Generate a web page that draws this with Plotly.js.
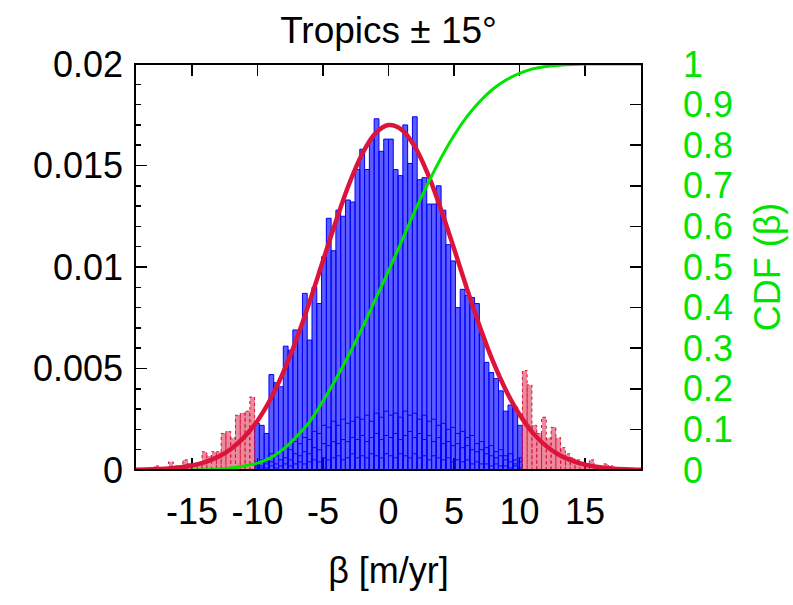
<!DOCTYPE html>
<html>
<head>
<meta charset="utf-8">
<script src="https://cdn.plot.ly/plotly-3.0.1.min.js"></script>
<style>html,body{margin:0;padding:0;background:#fff;}#chart{width:793px;height:605px;}</style>
</head>
<body>
<div id="chart"></div>
<script>
// ---------- data ----------
const binWidth = 0.365;           // histogram bin width [m/yr]
const blueFirstBin = -28;         // index of first central (blue) bin
const blueHeights = [
  0.0023, 0.0022, 0.0018, 0.0047, 0.0043, 0.0041, 0.0061, 0.0059, 0.0069, 0.0068,
  0.0087, 0.0064, 0.0090, 0.0082, 0.0105, 0.0124, 0.0108, 0.0128, 0.0125, 0.0133,
  0.0132, 0.0148, 0.0158, 0.0148, 0.0163, 0.0173, 0.0157, 0.0163, 0.0163, 0.0148,
  0.0145, 0.0170, 0.0151, 0.0174, 0.0143, 0.0144, 0.0131, 0.0131, 0.0140, 0.0128,
  0.0111, 0.0103, 0.0080, 0.0089, 0.0086, 0.0085, 0.0082, 0.0067, 0.0053, 0.0048,
  0.0045, 0.0039, 0.0029, 0.0032, 0.0031, 0.0022
];
// lower sub-histograms visible as inner outlines
const innerHeightsA = [
  0.0004, 0.0005, 0.0004, 0.0008, 0.0007, 0.0009, 0.0011, 0.0010, 0.0014, 0.0013,
  0.0016, 0.0015, 0.0019, 0.0018, 0.0022, 0.0021, 0.0024, 0.0022, 0.0025, 0.0023,
  0.0024, 0.0026, 0.0025, 0.0027, 0.0024, 0.0028, 0.0026, 0.0029, 0.0027, 0.0028,
  0.0026, 0.0029, 0.0027, 0.0028, 0.0025, 0.0027, 0.0024, 0.0025, 0.0022, 0.0023,
  0.0020, 0.0021, 0.0018, 0.0019, 0.0016, 0.0017, 0.0013, 0.0014, 0.0011, 0.0012,
  0.0009, 0.0010, 0.0007, 0.0008, 0.0005, 0.0006
];
const innerHeightsB = [
  0.0002, 0.0002, 0.0003, 0.0004, 0.0003, 0.0005, 0.0006, 0.0005, 0.0008, 0.0007,
  0.0009, 0.0008, 0.0011, 0.0010, 0.0013, 0.0012, 0.0014, 0.0013, 0.0015, 0.0014,
  0.0016, 0.0015, 0.0017, 0.0014, 0.0016, 0.0018, 0.0015, 0.0017, 0.0016, 0.0018,
  0.0015, 0.0017, 0.0019, 0.0016, 0.0018, 0.0015, 0.0017, 0.0014, 0.0016, 0.0013,
  0.0014, 0.0012, 0.0013, 0.0011, 0.0012, 0.0010, 0.0009, 0.0010, 0.0008, 0.0007,
  0.0006, 0.0007, 0.0005, 0.0004, 0.0003, 0.0004
];
const innerHeightsC = [
  0.0001, 0.0001, 0.0001, 0.0002, 0.0001, 0.0002, 0.0003, 0.0002, 0.0003, 0.0004,
  0.0003, 0.0004, 0.0005, 0.0004, 0.0006, 0.0005, 0.0006, 0.0007, 0.0005, 0.0006,
  0.0008, 0.0006, 0.0007, 0.0006, 0.0008, 0.0007, 0.0006, 0.0008, 0.0007, 0.0006,
  0.0008, 0.0007, 0.0006, 0.0008, 0.0006, 0.0007, 0.0005, 0.0007, 0.0006, 0.0005,
  0.0006, 0.0004, 0.0005, 0.0004, 0.0005, 0.0003, 0.0004, 0.0003, 0.0003, 0.0002,
  0.0003, 0.0002, 0.0002, 0.0001, 0.0002, 0.0001
];
const leftTailFirstBin = -51;
const leftTailHeights = [
  0.0001, 0.0001, 0.0002, 0.0001, 0.0001, 0.0004, 0.0002, 0.0002, 0.0005, 0.0003,
  0.0003, 0.0003, 0.0009, 0.0007, 0.0009, 0.0009, 0.0018, 0.0019, 0.0016, 0.0027,
  0.0028, 0.0029, 0.0036
];
const rightTailFirstBin = 28;
const rightTailHeights = [
  0.0049, 0.0042, 0.0022, 0.0018, 0.0026, 0.0016, 0.0021, 0.0016, 0.0011, 0.0008,
  0.0006, 0.0005, 0.0004, 0.0003, 0.0005, 0.0002, 0.0001, 0.0003, 0.0002, 0.0001,
  0.0001, 0.0001
];
// Gaussian fit curve
const fitX = [-19.35, -18, -17, -16, -15, -14, -13, -12, -11, -10, -9, -8, -7, -6, -5, -4, -3, -2, -1, 0,
              1, 2, 3, 4, 5, 6, 7, 8, 9, 10, 11, 12, 13, 14, 15, 16, 17, 18, 19.35];
const fitY = [0.000013, 0.000034, 0.000066, 0.000124, 0.000224, 0.00039, 0.00065, 0.00105, 0.00163, 0.00243,
              0.00350, 0.00486, 0.00648, 0.00833, 0.01031, 0.01228, 0.01410, 0.01558, 0.01658, 0.01699,
              0.01677, 0.01594, 0.01459, 0.01285, 0.01091, 0.00891, 0.00701, 0.00531, 0.00388, 0.00273,
              0.00184, 0.00120, 0.000755, 0.00046, 0.000265, 0.000149, 0.00008, 0.000042, 0.000016];
// cumulative distribution
const cdfX = [-15, -13, -12, -11, -10, -9, -8, -7, -6, -5, -4, -3, -2, -1, 0, 1, 2, 3, 4, 5,
              6, 7, 8, 9, 10, 11, 12, 13, 14, 15, 19.35];
const cdfY = [0, 0.002, 0.005, 0.01, 0.017, 0.03, 0.052, 0.083, 0.12, 0.17, 0.225, 0.285, 0.35, 0.42, 0.49,
              0.563, 0.637, 0.705, 0.768, 0.824, 0.871, 0.909, 0.939, 0.961, 0.977, 0.988, 0.994, 0.997, 0.999, 1, 1];
const xTickVals = [-15, -10, -5, 0, 5, 10, 15];
const xTickLabels = ['-15', '-10', '-5', '0', '5', '10', '15'];
const yTickVals = [0, 0.005, 0.01, 0.015, 0.02];
const yTickLabels = ['0', '0.005', '0.01', '0.015', '0.02'];

// ---------- build ----------
const centers = (first, n) => Array.from({length: n}, (_, i) => (first + i + 0.5) * binWidth);
const blueX = centers(blueFirstBin, blueHeights.length);
const leftX = centers(leftTailFirstBin, leftTailHeights.length);
const rightX = centers(rightTailFirstBin, rightTailHeights.length);

function outline(xs, hs) {
  const ox = [], oy = [];
  xs.forEach((c, i) => {
    const l = c - binWidth / 2, r = c + binWidth / 2;
    ox.push(l, l, r, r, null); oy.push(0, hs[i], hs[i], 0, null);
  });
  return {ox, oy};
}
const lo = outline(leftX, leftTailHeights), ro = outline(rightX, rightTailHeights);

const FONT = 'Liberation Sans, Arial, Helvetica, sans-serif';
const GREEN = '#00e400';
const CRIMSON = '#dc143c';

const innerBar = (h) => ({
  type: 'bar', x: blueX, y: h, width: binWidth, hoverinfo: 'skip',
  marker: {color: 'rgba(0,0,0,0)', line: {color: '#0000ff', width: 1}}
});

const traces = [
  {type: 'bar', x: blueX, y: blueHeights, width: binWidth,
   marker: {color: 'rgba(0,0,255,0.64)', line: {color: '#0000ff', width: 1}}},
  innerBar(innerHeightsA), innerBar(innerHeightsB), innerBar(innerHeightsC),
  {type: 'bar', x: leftX, y: leftTailHeights, width: binWidth,
   marker: {color: 'rgba(220,20,60,0.5)', line: {width: 0}}},
  {type: 'bar', x: rightX, y: rightTailHeights, width: binWidth,
   marker: {color: 'rgba(220,20,60,0.5)', line: {width: 0}}},
  {type: 'scatter', mode: 'lines', x: lo.ox, y: lo.oy, connectgaps: false,
   line: {color: CRIMSON, width: 1, dash: '3px,3px'}},
  {type: 'scatter', mode: 'lines', x: ro.ox, y: ro.oy, connectgaps: false,
   line: {color: CRIMSON, width: 1, dash: '3px,3px'}},
  {type: 'scatter', mode: 'lines', x: fitX, y: fitY,
   line: {color: CRIMSON, width: 4.5, shape: 'spline'}},
  {type: 'scatter', mode: 'lines', x: cdfX, y: cdfY, yaxis: 'y2',
   line: {color: GREEN, width: 3, shape: 'spline'}}
];

const layout = {
  width: 793, height: 605,
  margin: {l: 135, r: 151, t: 64, b: 135},
  paper_bgcolor: '#fff', plot_bgcolor: '#fff',
  showlegend: false, barmode: 'overlay', bargap: 0,
  font: {family: FONT, size: 36, color: '#000'},
  title: {text: 'Tropics ± 15°', font: {family: FONT, size: 37, color: '#000'},
          x: 0.5, xref: 'paper', xanchor: 'center', y: 0.95, yref: 'container', yanchor: 'middle'},
  xaxis: {range: [-19.35, 19.35], tickvals: xTickVals, ticktext: xTickLabels, ticks: 'inside', ticklen: 12, tickwidth: 1.5,
          tickcolor: '#000', mirror: 'ticks', showline: false, showgrid: false, zeroline: false,
          layer: 'below traces', tickfont: {size: 36}, ticklabelstandoff: 17,
          title: {text: 'β [m/yr]', font: {size: 36}, standoff: 26}},
  yaxis: {range: [0, 0.02], tickvals: yTickVals, ticktext: yTickLabels,
          ticks: 'inside', ticklen: 12, tickwidth: 1.5, tickcolor: '#000',
          minor: {dtick: 0.001, ticks: 'inside', ticklen: 6, tickcolor: '#000', tickwidth: 1.5},
          showline: false, showgrid: false, zeroline: false, layer: 'below traces',
          tickfont: {size: 36}, ticklabelstandoff: 11},
  yaxis2: {range: [0, 1], overlaying: 'y', side: 'right', dtick: 0.1, ticks: 'inside', ticklen: 12,
           tickwidth: 1.5, tickcolor: '#000', showline: false, showgrid: false, zeroline: false,
           layer: 'below traces', tickfont: {size: 36, color: GREEN}, ticklabelstandoff: 40,
           title: {text: 'CDF (β)', font: {size: 36, color: GREEN}, standoff: 22}},
  shapes: [{type: 'rect', xref: 'paper', yref: 'paper', x0: 0, x1: 1, y0: 0, y1: 1,
            line: {color: '#000', width: 2}, layer: 'above'}]
};

Plotly.newPlot('chart', traces, layout, {staticPlot: true, displayModeBar: false});
</script>
</body>
</html>
